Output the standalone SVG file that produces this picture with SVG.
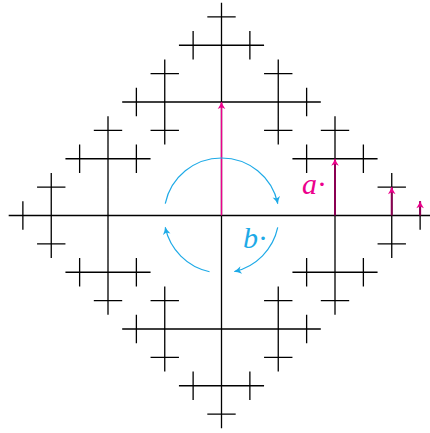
<svg xmlns="http://www.w3.org/2000/svg" width="430" height="433" viewBox="0 0 430 433">
<defs>
<style>
.tree{fill:none;stroke:#000;stroke-width:1.3;stroke-linecap:butt}
.pk{fill:none;stroke:#ec008c;stroke-width:1.4}
.pkd{fill:none;stroke:#8a0052;stroke-width:2}
.bl{fill:none;stroke:#1eaae7;stroke-width:1.2}
.lbl{font-family:"Liberation Serif","Times New Roman",serif;font-size:30px;font-style:italic}
</style>
<marker id="ahp" viewBox="-8 -5 10 10" refX="0" refY="0" markerWidth="10" markerHeight="10" markerUnits="userSpaceOnUse" orient="auto">
<path d="M0.6,0 Q-3,-1 -7,-3.8 L-5.2,0 L-7,3.8 Q-3,1 0.6,0 Z" fill="#ec008c"/>
</marker>
<marker id="ahb" viewBox="-8 -5 10 10" refX="0" refY="0" markerWidth="10" markerHeight="10" markerUnits="userSpaceOnUse" orient="auto">
<path d="M0.6,0 Q-3,-1 -7,-3.8 L-5.2,0 L-7,3.8 Q-3,1 0.6,0 Z" fill="#1eaae7"/>
</marker>
</defs>
<rect width="430" height="433" fill="#fff"/>
<g id="tree" class="tree">
<path id="axes" d="M8.69 215.5H434.31 M221.5 2.69V428.31"/>
<path id="branch-top" d="M122.19 102H320.81 M178.94 45.25H264.06 M207.31 16.875H235.69 M193.125 31.06V59.44 M249.875 31.06V59.44 M164.75 59.44V144.56 M278.25 59.44V144.56 M150.56 73.625H178.94 M264.06 73.625H292.44 M150.56 130.375H178.94 M264.06 130.375H292.44 M136.375 87.81V116.19 M306.625 87.81V116.19"/>
<path id="branch-bottom" d="M122.19 329H320.81 M178.94 385.75H264.06 M207.31 414.125H235.69 M193.125 371.56V399.94 M249.875 371.56V399.94 M164.75 286.44V371.56 M278.25 286.44V371.56 M150.56 357.375H178.94 M264.06 357.375H292.44 M150.56 300.625H178.94 M264.06 300.625H292.44 M136.375 314.81V343.19 M306.625 314.81V343.19"/>
<path id="branch-left" d="M108 116.19V314.81 M51.25 172.94V258.06 M22.875 201.31V229.69 M37.06 243.875H65.44 M37.06 187.125H65.44 M65.44 272.25H150.56 M65.44 158.75H150.56 M79.625 258.06V286.44 M79.625 144.56V172.94 M136.375 258.06V286.44 M136.375 144.56V172.94 M93.81 300.625H122.19 M93.81 130.375H122.19"/>
<path id="branch-right" d="M335 116.19V314.81 M391.75 172.94V258.06 M420.125 201.31V229.69 M377.56 243.875H405.94 M377.56 187.125H405.94 M292.44 272.25H377.56 M292.44 158.75H377.56 M363.375 258.06V286.44 M363.375 144.56V172.94 M306.625 258.06V286.44 M306.625 144.56V172.94 M320.81 300.625H349.19 M320.81 130.375H349.19"/>
</g>
<g id="connectors">
<path class="pk" d="M221.5 215.5V102" marker-end="url(#ahp)"/>
<path class="pkd" d="M335 215.5V158.75" marker-end="url(#ahp)"/>
<path class="pkd" d="M391.75 215.5V187.125" marker-end="url(#ahp)"/>
<path class="pkd" d="M420.125 215.5V201.31" marker-end="url(#ahp)"/>
<path class="bl" d="M165.26 203.54A57.5 57.5 0 0 1 277.74 203.54" marker-end="url(#ahb)"/>
<path class="bl" d="M277.74 227.46A57.5 57.5 0 0 1 234.43 271.53" marker-end="url(#ahb)"/>
<path class="bl" d="M209.54 271.74A57.5 57.5 0 0 1 165.26 227.46" marker-end="url(#ahb)"/>
</g>
<g id="label-a"><text class="lbl" x="302" y="194" fill="#ec008c">a<tspan font-style="normal">·</tspan></text></g>
<g id="label-b"><text class="lbl" x="243" y="247.5" fill="#1eaae7">b<tspan font-style="normal">·</tspan></text></g>
</svg>
